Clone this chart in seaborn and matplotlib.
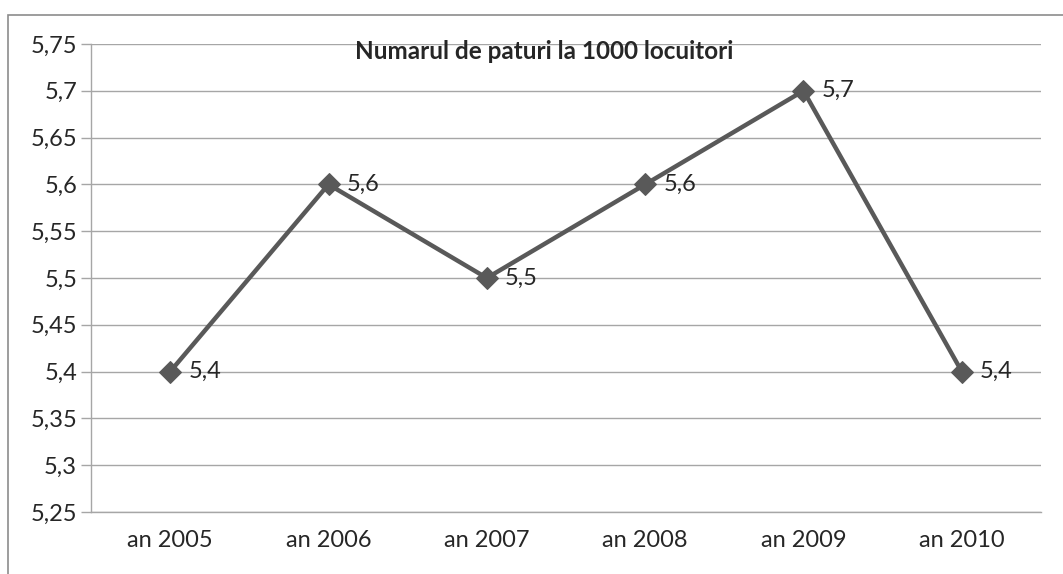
import matplotlib
matplotlib.use("Agg")
import matplotlib.pyplot as plt
import matplotlib.patches as patches
from matplotlib.ticker import FuncFormatter, FixedLocator
import seaborn as sns
import numpy as np
import pandas as pd

years = ["an 2005", "an 2006", "an 2007", "an 2008", "an 2009", "an 2010"]
values = [5.4, 5.6, 5.5, 5.6, 5.7, 5.4]
yticks = [5.25, 5.3, 5.35, 5.4, 5.45, 5.5, 5.55, 5.6, 5.65, 5.7, 5.75]
title = "Numarul de paturi la 1000 locuitori"

sns.set_style("white")
plt.rcParams["font.family"] = ["Lato", "DejaVu Sans"]

df = pd.DataFrame({"x": np.arange(len(years)), "value": values})

fig = plt.figure(figsize=(10.63, 5.74), dpi=100)
ax = fig.add_axes([91 / 1063, 1 - 512 / 574, 950 / 1063, 468 / 574])

line_col = "#595959"
grid_col = "#a6a6a6"

sns.lineplot(data=df, x="x", y="value", ax=ax, color=line_col, linewidth=3.2,
             marker="D", markersize=11, markeredgecolor=line_col, zorder=3)

for i, v in enumerate(values):
    ax.annotate(f"{v:g}".replace(".", ","), (i, v), xytext=(13, 0),
                textcoords="offset points", va="center", ha="left", fontsize=17)

ax.set_xlim(-0.5, len(years) - 0.5)
ax.set_ylim(5.25, 5.75)
ax.set_yticks(yticks)
ax.yaxis.set_major_formatter(FuncFormatter(lambda v, p: f"{v:.2f}".rstrip("0").replace(".", ",")))
ax.set_xticks(range(len(years)))
ax.set_xticklabels(years)
ax.xaxis.set_minor_locator(FixedLocator(np.arange(-0.5, len(years), 1.0)))
ax.tick_params(axis="x", which="major", length=0, labelsize=17, pad=13)
ax.tick_params(axis="x", which="minor", length=7, color=grid_col, width=1, direction="out")
ax.tick_params(axis="y", which="major", length=7, color=grid_col, width=1, labelsize=17, pad=3, left=True)
ax.grid(axis="y", color=grid_col, linewidth=1)
ax.set_axisbelow(True)
ax.set_xlabel("")
ax.set_ylabel("")

for s in ["top", "right"]:
    ax.spines[s].set_visible(False)
for s in ["left", "bottom"]:
    ax.spines[s].set_color(grid_col)
    ax.spines[s].set_linewidth(1)

ax.text(0.477, 0.983, title, transform=ax.transAxes, ha="center", va="center",
        fontsize=17.5, fontweight="bold")

# outer chart frame
fig.patches.append(patches.Rectangle((8 / 1063, -0.05), 1.1, 1 - 15 / 574 + 0.05,
                                     transform=fig.transFigure, fill=False,
                                     edgecolor="#8c8c8c", linewidth=1.2))

fig.savefig("out.png", dpi=100)
